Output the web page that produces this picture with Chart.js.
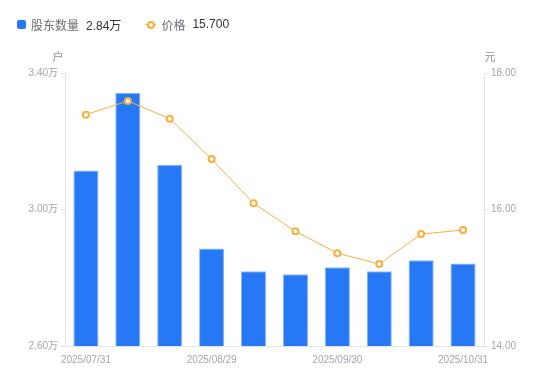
<!DOCTYPE html>
<html>
<head>
<meta charset="utf-8">
<script src="https://cdn.jsdelivr.net/npm/chart.js@4.4.1/dist/chart.umd.min.js"></script>
<style>
    html, body { margin: 0; padding: 0; background: #fff; }
    #wrap { position: relative; width: 550px; height: 381px; }
    #legend {
        position: absolute; left: 17px; top: 15px; height: 18px;
        font-family: 'Liberation Sans', 'Noto Sans CJK SC', sans-serif; font-size: 12px;
        display: flex; align-items: center; white-space: nowrap;
    }
    .sq { width: 9px; height: 9px; background: #2778f4; border-radius: 2px; display: inline-block; margin-right: 5px; }
    .ln { position: relative; width: 11px; height: 9px; display: inline-block; margin-right: 5px; }
    .ln::before { content: ''; position: absolute; left: 0; right: 0; top: 4px; height: 1px; background: #f8b03c; }
    .ln::after { content: ''; position: absolute; left: 2px; top: 1px; width: 4px; height: 4px; border: 2px solid #f8b03c; border-radius: 50%; background: #fff; }
    .nm { color: #6b6e78; margin-right: 7px; }
    .vl { color: #333; }
</style>
</head>
<body>
<div id="wrap">
    <div id="legend">
        <span class="sq"></span><span class="nm">股东数量</span><span class="vl" style="margin-right:24px">2.84万</span>
        <span class="ln"></span><span class="nm">价格</span><span class="vl">15.700</span>
    </div>
    <canvas id="chart" width="550" height="381"></canvas>
</div>
<script>
// dados
const datas = ['2025/07/31', '2025/08/10', '2025/08/20', '2025/08/29', '2025/09/10',
               '2025/09/19', '2025/09/30', '2025/10/10', '2025/10/20', '2025/10/31'];
const acionistas = [3.114, 3.342, 3.131, 2.886, 2.819, 2.810, 2.831, 2.819, 2.851, 2.842]; // 万户
const precos = [17.39, 17.59, 17.33, 16.74, 16.09, 15.68, 15.36, 15.20, 15.64, 15.70]; // 元
const ticksEsquerda = [2.6, 3.0, 3.4];
const ticksDireita = [14, 16, 18];

const fonteTick = { family: "'Liberation Sans', 'Noto Sans CJK SC', sans-serif", size: 10 };
const corTick = '#a3a5b3';
const corEixo = '#e3e4e8';

// unidades acima dos eixos
const unidadesPlugin = {
    id: 'unidades',
    afterDraw(chart) {
        const ctx = chart.ctx;
        const area = chart.chartArea;
        ctx.save();
        ctx.font = "11px 'Noto Sans CJK SC', sans-serif";
        ctx.fillStyle = '#8e909c';
        ctx.textBaseline = 'middle';
        ctx.textAlign = 'center';
        ctx.fillText('户', area.left - 7, area.top - 16);
        ctx.fillText('元', area.right + 6, area.top - 16);
        ctx.restore();
    }
};

new Chart(document.getElementById('chart'), {
    data: {
        labels: datas,
        datasets: [{
            type: 'line',
            label: '价格',
            data: precos,
            yAxisID: 'y1',
            borderColor: '#f8b03c',
            borderWidth: 1,
            pointRadius: 3,
            pointBorderWidth: 2,
            pointBackgroundColor: '#fff',
            pointBorderColor: '#f8b03c',
            tension: 0,
            order: 0
        }, {
            type: 'bar',
            label: '股东数量',
            data: acionistas,
            yAxisID: 'y',
            backgroundColor: '#2778f4',
            borderColor: '#8ab6f8',
            borderWidth: 1,
            borderSkipped: 'bottom',
            categoryPercentage: 0.6,
            barPercentage: 1,
            order: 1
        }]
    },
    options: {
        responsive: false,
        animation: false,
        layout: { padding: { top: 73, left: 0, right: 0, bottom: 0 } },
        plugins: { legend: { display: false }, tooltip: { enabled: false } },
        scales: {
            x: {
                grid: { display: false },
                border: { display: true, color: corEixo },
                ticks: {
                    color: corTick, font: fonteTick, maxRotation: 0, autoSkip: false, padding: 0,
                    callback: function(v, i) { return i % 3 === 0 ? datas[i] : ''; }
                },
                afterFit(scale) { scale.height = 35; }
            },
            y: {
                position: 'left',
                min: 2.6, max: 3.4,
                afterBuildTicks(scale) { scale.ticks = ticksEsquerda.map(v => ({ value: v })); },
                grid: { drawOnChartArea: false, drawTicks: true, tickLength: 5, color: corEixo },
                border: { display: true, color: corEixo },
                ticks: {
                    color: corTick, font: fonteTick, padding: 2,
                    callback: v => v.toFixed(2) + '万'
                },
                afterFit(scale) { scale.width = 65; }
            },
            y1: {
                position: 'right',
                min: 14, max: 18,
                afterBuildTicks(scale) { scale.ticks = ticksDireita.map(v => ({ value: v })); },
                grid: { drawOnChartArea: false, drawTicks: true, tickLength: 5, color: corEixo },
                border: { display: true, color: corEixo },
                ticks: {
                    color: corTick, font: fonteTick, padding: 2,
                    callback: v => v.toFixed(2)
                },
                afterFit(scale) { scale.width = 66; }
            }
        }
    },
    plugins: [unidadesPlugin]
});
</script>
</body>
</html>
